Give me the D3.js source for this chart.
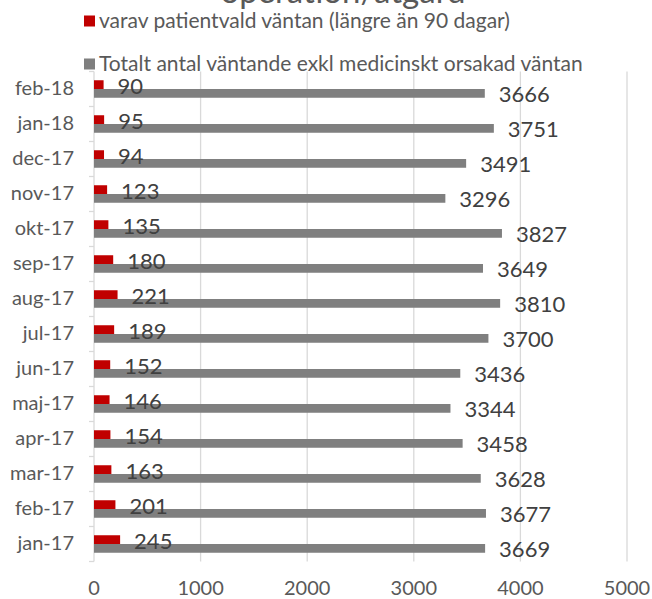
<!DOCTYPE html>
<html>
<head>
<meta charset="utf-8">
<script src="https://cdn.jsdelivr.net/npm/d3@7"></script>
<style>
  body { margin: 0; background: #fff; }
  svg { display: block; font-family: Lato, "Open Sans", sans-serif; }
</style>
</head>
<body>
<div class="chart"></div>
<script>
// data, bottom row first (as in the excel sheet)
const months = ['jan-17', 'feb-17', 'mar-17', 'apr-17', 'maj-17', 'jun-17', 'jul-17',
                'aug-17', 'sep-17', 'okt-17', 'nov-17', 'dec-17', 'jan-18', 'feb-18'];
const patientvald = [245, 201, 163, 154, 146, 152, 189, 221, 180, 135, 123, 94, 95, 90];
const totalt = [3669, 3677, 3628, 3458, 3344, 3436, 3700, 3810, 3649, 3827, 3296, 3491, 3751, 3666];
const xTicks = [0, 1000, 2000, 3000, 4000, 5000];

const legendNames = ['varav patientvald väntan (längre än 90 dagar)',
                     'Totalt antal väntande exkl medicinskt orsakad väntan'];
const colors = ['#c00000', '#7f7f7f'];

const width = 652, height = 599;
const margin = { top: 71.5, right: 25, bottom: 36, left: 94 };

const svg = d3.select('.chart')
              .append('svg')
              .attr('width', width)
              .attr('height', height);

// title, mostly cut off at the top
svg.append('text')
   .attr('x', 343)
   .attr('y', 3)
   .attr('text-anchor', 'middle')
   .style('font-size', '33px')
   .style('fill', '#595959')
   .text('operation/åtgärd');

// legend
const legend = svg.selectAll('.legend')
                  .data(legendNames)
                  .enter()
                  .append('g')
                  .attr('class', 'legend')
                  .attr('transform', (d, i) => 'translate(84,' + (21 + i * 43) + ')');
legend.append('rect')
      .attr('x', 0).attr('y', -5.5)
      .attr('width', 11).attr('height', 11)
      .attr('fill', (d, i) => colors[i]);
legend.append('text')
      .attr('x', 15).attr('y', 0)
      .attr('dy', '0.35em')
      .style('font-size', '21px')
      .style('fill', '#595959')
      .text(d => d);

const x = d3.scaleLinear()
            .domain([0, 5000])
            .range([margin.left, 627]);

const y = d3.scaleBand()
            .domain(months.slice().reverse())
            .range([margin.top, margin.top + 35 * months.length])
            .paddingInner(0.5)
            .paddingOuter(0.25);

const sub = d3.scaleBand()
              .domain(['patientvald', 'totalt'])
              .range([0, y.bandwidth()]);

const plotBottom = margin.top + 35 * months.length;

// gridlines
svg.append('g')
   .selectAll('line')
   .data(xTicks)
   .enter()
   .append('line')
   .attr('x1', d => x(d)).attr('x2', d => x(d))
   .attr('y1', margin.top).attr('y2', plotBottom)
   .attr('stroke', '#d9d9d9')
   .attr('stroke-width', 1.3);

// category ticks on the left
const bounds = d3.range(months.length + 1).map(i => margin.top + 35 * i);
svg.append('g')
   .selectAll('line')
   .data(bounds)
   .enter()
   .append('line')
   .attr('x1', x(0) - 5).attr('x2', x(0))
   .attr('y1', d => d).attr('y2', d => d)
   .attr('stroke', '#d9d9d9')
   .attr('stroke-width', 1.3);

// x tick labels
svg.append('g')
   .selectAll('text')
   .data(xTicks)
   .enter()
   .append('text')
   .attr('x', d => x(d))
   .attr('y', 588)
   .attr('dy', '0.35em')
   .attr('text-anchor', 'middle')
   .style('font-size', '20px')
   .style('fill', '#595959')
   .text(d => d);

// category labels
svg.append('g')
   .selectAll('text')
   .data(months)
   .enter()
   .append('text')
   .attr('x', 74)
   .attr('y', d => y(d) + y.bandwidth() / 2 - 1)
   .attr('dy', '0.35em')
   .attr('text-anchor', 'end')
   .style('font-size', '20px')
   .style('fill', '#595959')
   .text(d => d);

// bars
const rows = months.map((m, i) => ({ m: m, p: patientvald[i], t: totalt[i] }));

const groups = svg.append('g')
                  .selectAll('g')
                  .data(rows)
                  .enter()
                  .append('g')
                  .attr('transform', d => 'translate(0,' + y(d.m) + ')');

groups.append('rect')
      .attr('x', x(0))
      .attr('y', sub('totalt'))
      .attr('width', d => x(d.t) - x(0))
      .attr('height', sub.bandwidth())
      .attr('fill', colors[1]);

groups.append('rect')
      .attr('x', x(0))
      .attr('y', sub('patientvald'))
      .attr('width', d => x(d.p) - x(0))
      .attr('height', sub.bandwidth())
      .attr('fill', colors[0]);

// value labels
groups.append('text')
      .attr('x', d => x(d.p) + 14)
      .attr('y', sub('patientvald') + sub.bandwidth() / 2 + 2)
      .attr('dy', '0.35em')
      .style('font-size', '22px')
      .style('fill', '#404040')
      .text(d => d.p);

groups.append('text')
      .attr('x', d => x(d.t) + 14)
      .attr('y', sub('totalt') + sub.bandwidth() / 2 + 1)
      .attr('dy', '0.35em')
      .style('font-size', '22px')
      .style('fill', '#404040')
      .text(d => d.t);
</script>
</body>
</html>
